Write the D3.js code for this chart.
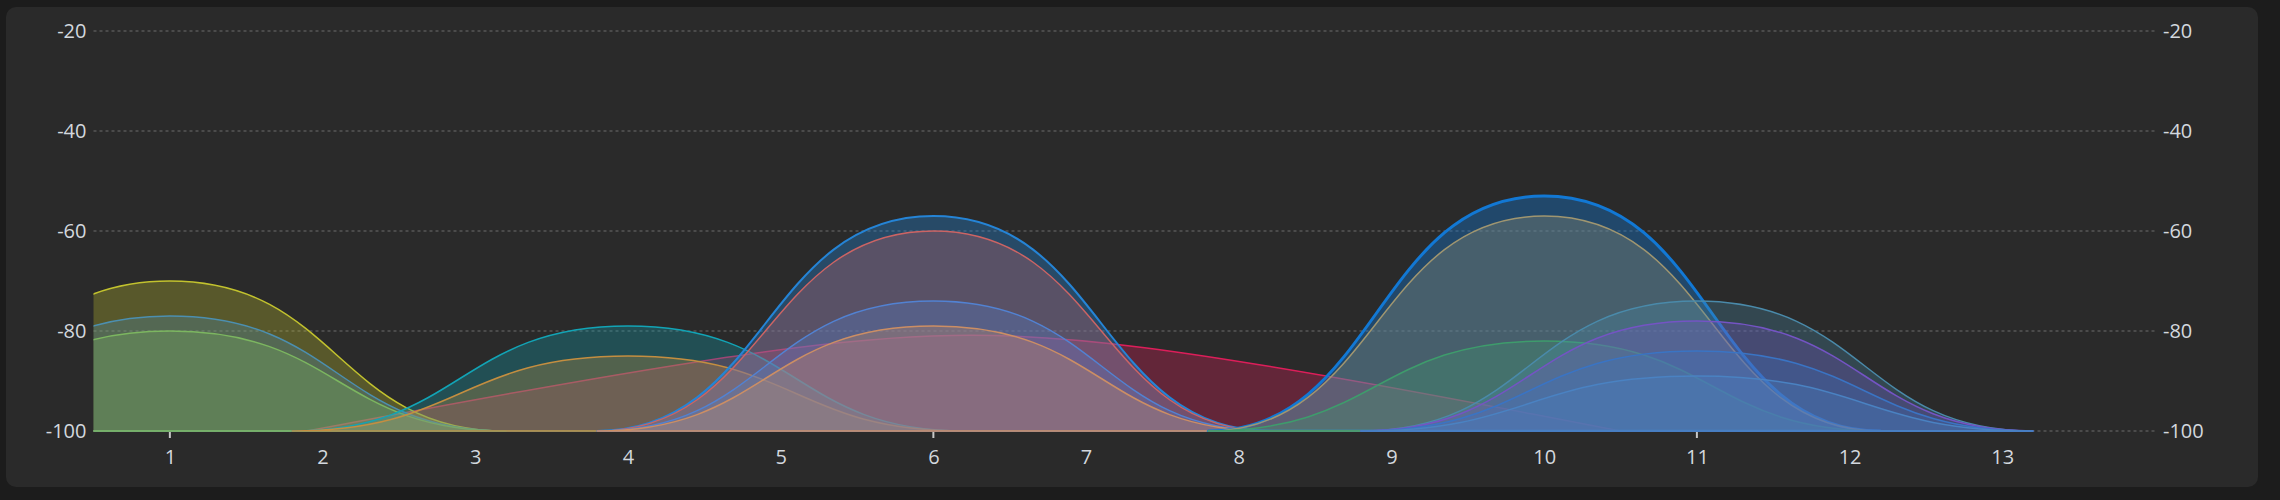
<!DOCTYPE html>
<html>
<head>
<meta charset="utf-8">
<script src="https://cdn.jsdelivr.net/npm/d3@7"></script>
<style>
  body{margin:0;background:#1c1c1c;}
  .axis text{font-family:"Open Sans",sans-serif;font-size:20px;fill:#d3d8de;}
</style>
</head>
<body>
<div id="chart"></div>
<script>
// the one wide (40 MHz) network: outline channels and levels
const wideChannels = [1.9, 5.4, 7.1, 10.5];
const wideSignals  = [-100, -80, -80, -100];

// networks (20 MHz): channel and signal in dBm
const channels = [1, 1, 1, 4, 4, 6, 6, 6, 6, 10, 10, 10, 11, 11, 11, 11];
const signals  = [-70, -77, -80, -79, -85, -57, -60, -74, -79, -53, -57, -82, -74, -78, -84, -89];

// styles, wide network first
const colors  = ["#dc1e5a",
                 "#c2c22e","#4c8fb0","#7cb660","#12a4b6","#c48e40","#2584d6","#cc6464","#5282d2","#cc8e64",
                 "#1278d4","#a09670","#3e9c6c","#4a8aaa","#7454c4","#3a74c4","#4a82c2"];
const strokeW = [1.5, 1.5,1.5,1.5,1.5,1.5,2,1.5,1.5,1.5,3,1.5,1.5,1.5,1.5,1.5,1.5];
const fillOp  = [0.32, 0.3,0.3,0.3,0.3,0.3,0.36,0.3,0.3,0.3,0.38,0.3,0.3,0.3,0.3,0.3,0.3];

const halfWidth = 2.2;   // 22 MHz channel / 5 MHz per channel / 2
const floor = -100;
const yTicks = [-20, -40, -60, -80, -100];
const xTicks = [1,2,3,4,5,6,7,8,9,10,11,12,13];
const markTicks = [1, 6, 11];

const W = 2280, H = 500;
const svg = d3.select("#chart").append("svg")
    .attr("width", W).attr("height", H);

// card
svg.append("rect")
    .attr("x", 6).attr("y", 7)
    .attr("width", 2252).attr("height", 480)
    .attr("rx", 10)
    .attr("fill", "#2a2a2a");

const x = d3.scaleLinear().domain([0.5, 14]).range([93.5, 2155]);
const y = d3.scaleLinear().domain([-100, -20]).range([431, 31]);

// grid
svg.append("g").selectAll("line")
    .data(yTicks).enter().append("line")
    .attr("x1", x.range()[0]).attr("x2", x.range()[1])
    .attr("y1", d => y(d)).attr("y2", d => y(d))
    .attr("stroke", "#575757")
    .attr("stroke-width", 1.5)
    .attr("stroke-dasharray", "3,3");

svg.append("clipPath").attr("id", "plot")
  .append("rect")
    .attr("x", x.range()[0]).attr("y", 0)
    .attr("width", x.range()[1] - x.range()[0]).attr("height", y(floor) + 1);

const plot = svg.append("g").attr("clip-path", "url(#plot)");

// each network shape
const area = d3.area()
    .x(d => x(d[0]))
    .y0(y(floor))
    .y1(d => y(d[1]));

const nets = [{
    pts: wideChannels.map((c, i) => [c, wideSignals[i]]),
    curve: d3.curveBasis
}];
channels.forEach((c, i) => nets.push({
    pts: [[c - halfWidth, floor], [c, signals[i]], [c + halfWidth, floor]],
    curve: d3.curveBumpX
}));

plot.selectAll("path")
    .data(nets).enter().append("path")
    .attr("d", d => area.curve(d.curve)(d.pts))
    .attr("fill", (d, i) => colors[i])
    .attr("fill-opacity", (d, i) => fillOp[i])
    .attr("stroke", (d, i) => colors[i])
    .attr("stroke-width", (d, i) => strokeW[i])
    .attr("stroke-linejoin", "round");

// axes
const fmt = d => String(d);
const left = svg.append("g").attr("class", "axis")
    .attr("transform", "translate(" + x.range()[0] + ",0)")
    .call(d3.axisLeft(y).tickValues(yTicks).tickFormat(fmt).tickSize(0).tickPadding(7));
const right = svg.append("g").attr("class", "axis")
    .attr("transform", "translate(" + x.range()[1] + ",0)")
    .call(d3.axisRight(y).tickValues(yTicks).tickFormat(fmt).tickSize(0).tickPadding(8));
const bottom = svg.append("g").attr("class", "axis")
    .attr("transform", "translate(0," + y(floor) + ")")
    .call(d3.axisBottom(x).tickValues(xTicks).tickFormat(fmt).tickSize(0).tickPadding(19));
[left, right, bottom].forEach(g => g.select(".domain").remove());

// small marks under the non-overlapping channels
svg.append("g").selectAll("line")
    .data(markTicks).enter().append("line")
    .attr("x1", d => x(d)).attr("x2", d => x(d))
    .attr("y1", y(floor) + 1).attr("y2", y(floor) + 7)
    .attr("stroke", "#c8c8c8")
    .attr("stroke-width", 2);
</script>
</body>
</html>
